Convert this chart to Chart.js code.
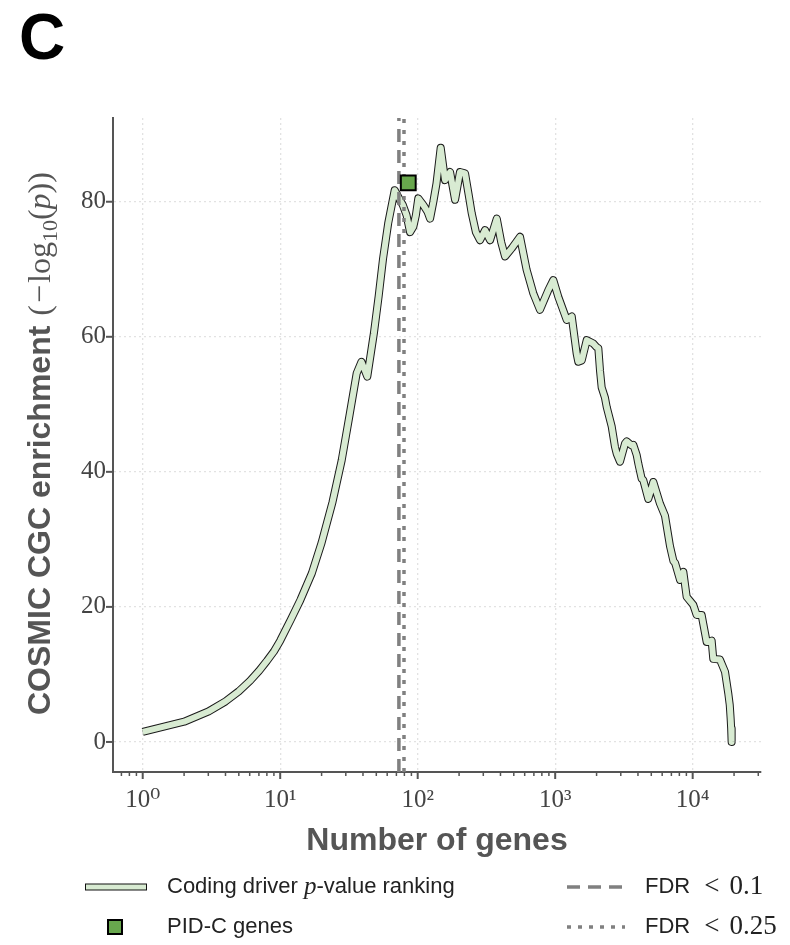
<!DOCTYPE html>
<html><head><meta charset="utf-8">
<script src="https://cdn.jsdelivr.net/npm/chart.js@4"></script>
<style>html,body{margin:0;padding:0;background:#fff;}canvas{display:block}</style>
</head><body>
<canvas id="c" width="790" height="945"></canvas>
<script>
// ---- data ----
const genes = [1,2,3,4,5,6,7,8,9,10,12,14,17,20,24,28,32,36,39,43,48,52,56,61,68,74,78,83,88,93,97,101,110,118,123,130,137,147,158,172,187,203,221,235,247,265,284,309,336,376,405,432,483,555,620,694,775,891,969,1054,1213,1320,1433,1472,1560,1695,1893,1995,2060,2118,2178,2300,2370,2577,2722,2800,2960,3220,3310,3600,3700,3915,4025,4255,4370,4755,5010,5170,5780,6290,6840,7240,7450,8090,8550,9040,9290,10100,10690,11620,11940,12640,12970,13740,14120,15780,17180,18150,18600,18880,19050,19200];
const enrichment = [1.5,3.0,4.5,6.0,7.5,9.0,10.5,12.0,13.4,15.0,18.2,21.0,25.0,29.5,35.5,41.7,48.5,54.6,56.3,54.1,60.5,66.0,71.6,76.8,81.7,80.3,79.5,78.0,75.5,76.3,78.0,80.5,79.5,78.5,77.5,80.0,82.7,88.0,83.2,84.4,80.3,84.4,84.2,81.0,78.3,75.5,74.3,75.8,74.3,77.5,74.0,71.9,73.1,74.8,69.9,66.4,64.0,66.9,68.4,65.9,62.5,63.0,57.5,56.3,56.5,59.5,59.0,58.5,58.3,55.0,52.5,51.0,49.6,46.7,43.7,42.7,41.5,44.2,44.5,43.9,44.0,42.5,41.2,39.0,38.8,36.0,37.5,38.5,35.3,33.5,29.0,26.8,26.5,24.0,25.2,21.5,21.2,20.3,18.8,18.8,17.5,14.8,14.8,15.0,12.3,12.2,10.4,7.2,5.5,3.5,2.0,0];
const pidGenes = [85.4];
const pidEnrichment = [82.8];
const fdr10Genes = 73;
const fdr25Genes = 79.5;
const yTickValues = [0,20,40,60,80];
const xMajorValues = [1,10,100,1000,10000];
const xTickLabels = ['10\u2070','10\u00b9','10\u00b2','10\u00b3','10\u2074'];
const xRange = [0.608, 31400];
const yRange = [-4.45, 92.4];

// ---- styles ----
const LINE_GREEN = '#d8ebd2';
const MARK_GREEN = '#68a74d';
const AXIS = '#555555';
const GRID = '#e2e2e2';
const VLINE = '#808080';
const SERIF = "'Liberation Serif', 'DejaVu Serif', serif";
const SANS = "'Liberation Sans', Arial, sans-serif";

const isMajor = v => xMajorValues.some(m => Math.abs(v - m) / m < 1e-9);

function drawRuns(ctx, runs, x, y) {
  let cx = x;
  for (const r of runs) {
    ctx.font = r[1];
    ctx.fillText(r[0], cx, y + (r[2] || 0));
    cx += ctx.measureText(r[0]).width + (r[3] || 0);
  }
  return cx - x;
}

const deco = {
  id: 'deco',
  afterDraw(chart) {
    const ctx = chart.ctx, xs = chart.scales.x, ys = chart.scales.y, ca = chart.chartArea;
    ctx.save();
    // tick marks
    ctx.strokeStyle = AXIS;
    xs.ticks.forEach(t => {
      const px = xs.getPixelForValue(t.value);
      const major = isMajor(t.value);
      ctx.lineWidth = major ? 2 : 1.5;
      ctx.beginPath(); ctx.moveTo(px, ca.bottom); ctx.lineTo(px, ca.bottom + (major ? 7 : 4)); ctx.stroke();
    });
    ys.ticks.forEach(t => {
      const py = ys.getPixelForValue(t.value);
      ctx.lineWidth = 2;
      ctx.beginPath(); ctx.moveTo(ca.left, py); ctx.lineTo(ca.left - 7, py); ctx.stroke();
    });
    // panel letter
    ctx.fillStyle = '#000';
    ctx.textBaseline = 'alphabetic';
    ctx.textAlign = 'left';
    ctx.font = "bold 64px " + SANS;
    ctx.fillText('C', 19, 59);
    // x title
    ctx.fillStyle = AXIS;
    ctx.font = "bold 32px " + SANS;
    ctx.textAlign = 'center';
    ctx.fillText('Number of genes', (ca.left + ca.right) / 2, 850);
    ctx.textAlign = 'left';
    // y title (mixed fonts)
    const yRuns = [
      ['COSMIC CGC enrichment', "bold 32px " + SANS, 0, 10],
      ['(', "32px " + SERIF, 0, 2],
      ['\u2212', "32px " + SERIF, 0, 2],
      ['log', "32px " + SERIF],
      ['10', "22px " + SERIF, 7],
      ['(', "32px " + SERIF],
      ['p', "italic 32px " + SERIF],
      ['))', "32px " + SERIF]
    ];
    ctx.save();
    ctx.translate(50, 715);
    ctx.rotate(-Math.PI / 2);
    drawRuns(ctx, yRuns, 0, 0);
    ctx.restore();
    // legend
    const r1 = 887, r2 = 927;
    ctx.lineCap = 'butt';
    ctx.strokeStyle = '#111'; ctx.lineWidth = 7;
    ctx.beginPath(); ctx.moveTo(85, r1); ctx.lineTo(147, r1); ctx.stroke();
    ctx.strokeStyle = LINE_GREEN; ctx.lineWidth = 5;
    ctx.beginPath(); ctx.moveTo(86, r1); ctx.lineTo(146, r1); ctx.stroke();
    ctx.fillStyle = MARK_GREEN; ctx.strokeStyle = '#000'; ctx.lineWidth = 2;
    ctx.fillRect(108, r2 - 7, 14, 14); ctx.strokeRect(108, r2 - 7, 14, 14);
    ctx.strokeStyle = VLINE; ctx.lineWidth = 3.5;
    ctx.setLineDash([13, 8]);
    ctx.beginPath(); ctx.moveTo(567, r1); ctx.lineTo(625, r1); ctx.stroke();
    ctx.setLineDash([4, 7]);
    ctx.beginPath(); ctx.moveTo(567, r2); ctx.lineTo(625, r2); ctx.stroke();
    ctx.setLineDash([]);
    ctx.fillStyle = '#222';
    ctx.textBaseline = 'middle';
    const L = "22px " + SANS, M = "27px " + SERIF, MI = "italic 25px " + SERIF;
    drawRuns(ctx, [['Coding driver ', L], ['p', MI], ['-value ranking', L]], 167, r1);
    drawRuns(ctx, [['PID-C genes', L]], 167, r2);
    drawRuns(ctx, [['FDR', L, 0, 14], ['<', M, 0, 10], ['0.1', M]], 645, r1);
    drawRuns(ctx, [['FDR', L, 0, 14], ['<', M, 0, 10], ['0.25', M]], 645, r2);
    ctx.restore();
  }
};

const curve = genes.map((g, i) => ({x: g, y: enrichment[i]}));

new Chart(document.getElementById('c'), {
  type: 'line',
  data: {
    datasets: [
      { label: 'PID-C genes', data: pidGenes.map((g, i) => ({x: g, y: pidEnrichment[i]})),
        showLine: false, pointStyle: 'rect', pointRadius: 10.5, pointBackgroundColor: MARK_GREEN,
        pointBorderColor: '#000', pointBorderWidth: 2, order: 0 },
      { label: 'FDR < 0.25', data: [{x: fdr25Genes, y: yRange[0]}, {x: fdr25Genes, y: yRange[1]}],
        borderColor: VLINE, borderWidth: 3.5, borderDash: [4, 7], pointRadius: 0, order: 1 },
      { label: 'FDR < 0.1', data: [{x: fdr10Genes, y: yRange[0]}, {x: fdr10Genes, y: yRange[1]}],
        borderColor: VLINE, borderWidth: 3.5, borderDash: [13, 8], pointRadius: 0, order: 2 },
      { label: 'Coding driver p-value ranking', data: curve, borderColor: LINE_GREEN, borderWidth: 6,
        borderJoinStyle: 'round', borderCapStyle: 'butt', pointRadius: 0, tension: 0, order: 3 },
      { label: 'outline', data: curve, borderColor: '#1a1a1a', borderWidth: 8,
        borderJoinStyle: 'round', borderCapStyle: 'butt', pointRadius: 0, tension: 0, order: 4 }
    ]
  },
  options: {
    responsive: false, animation: false, devicePixelRatio: 1,
    layout: { padding: { left: 0, right: 29, top: 118, bottom: 0 } },
    plugins: { legend: { display: false }, tooltip: { enabled: false } },
    scales: {
      x: {
        type: 'logarithmic', min: xRange[0], max: xRange[1], bounds: 'data',
        afterBuildTicks(scale) {
          const t = [];
          for (let e = -1; e <= 4; e++) for (let m = 1; m <= 9; m++) {
            const v = m * Math.pow(10, e);
            if (v >= xRange[0] && v <= xRange[1]) t.push({value: v, major: m === 1});
          }
          scale.ticks = t;
        },
        afterFit(scale) { scale.height = 945 - 772; },
        ticks: {
          autoSkip: false, maxRotation: 0, padding: 13, color: '#444',
          font: { family: SERIF, size: 25 },
          callback: (v) => { const i = xMajorValues.findIndex(m => Math.abs(v - m) / m < 1e-9); return i >= 0 ? xTickLabels[i] : ''; }
        },
        grid: { drawTicks: false, lineWidth: 1.3, color: c => (c.tick && isMajor(c.tick.value)) ? GRID : 'rgba(0,0,0,0)' },
        border: { display: true, color: AXIS, width: 2, dash: [2, 3] }
      },
      y: {
        type: 'linear', min: yRange[0], max: yRange[1], bounds: 'data',
        afterBuildTicks(scale) { scale.ticks = yTickValues.map(v => ({value: v})); },
        afterFit(scale) { scale.width = 113; },
        ticks: { padding: 7, color: '#444', font: { family: SERIF, size: 25 } },
        grid: { drawTicks: false, lineWidth: 1.3, color: GRID },
        border: { display: true, color: AXIS, width: 2, dash: [2, 3] }
      }
    }
  },
  plugins: [deco]
});
</script>
</body></html>
